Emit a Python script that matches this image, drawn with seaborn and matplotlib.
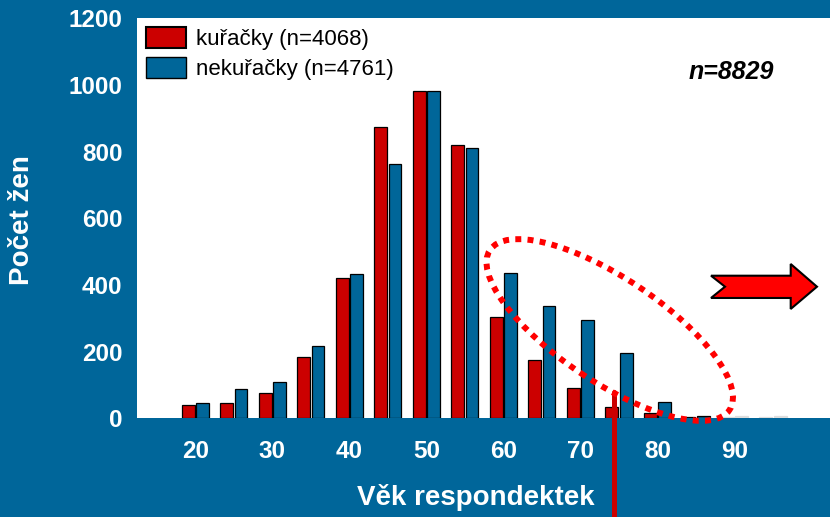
import numpy as np
import pandas as pd
import matplotlib
matplotlib.use("Agg")
import matplotlib.pyplot as plt
from matplotlib.patches import Patch, Polygon, Ellipse
from matplotlib.transforms import IdentityTransform
import seaborn as sns

# data
ages = [20, 25, 30, 35, 40, 45, 50, 55, 60, 65, 70, 75, 80, 85, 90, 95]
kuracky = [40, 45, 77, 185, 421, 874, 982, 820, 305, 176, 92, 34, 16, 3, 3, 3]
nekuracky = [45, 88, 109, 218, 434, 762, 982, 810, 435, 337, 295, 195, 48, 6, 7, 7]
groups = ["kuřačky (n=4068)", "nekuřačky (n=4761)"]
y_ticks = [0, 200, 400, 600, 800, 1000, 1200]
x_ticks = list(range(15, 101, 5))
x_labels = [str(t) if 20 <= t <= 90 and t % 10 == 0 else "" for t in x_ticks]
cutoff_age = 74.3
cutoff_top = 78

RED = "#CC0000"
BLUE = "#006699"
BG = "#00669A"
GHOST = "#DDDDDD"

df = pd.DataFrame({
    "age": ages * 2,
    "count": kuracky + nekuracky,
    "group": [groups[0]] * len(ages) + [groups[1]] * len(ages),
})

sns.set_style("white")
plt.rcParams["font.family"] = ["Liberation Sans", "DejaVu Sans"]

fig = plt.figure(figsize=(8.3, 5.17), dpi=100, facecolor=BG)
ax = fig.add_axes([137 / 830, 98.7 / 517, 693 / 830, 400 / 517])
ax.set_facecolor("white")

sns.barplot(data=df, x="age", y="count", hue="group", native_scale=True,
            palette=[RED, BLUE], saturation=1, width=0.74, gap=0.1,
            edgecolor="black", linewidth=0.9, legend=False, ax=ax)

# the oldest groups are greyed out
for p in ax.patches:
    if p.get_x() + p.get_width() / 2 > 87.5:
        p.set_facecolor(GHOST)
        p.set_edgecolor(GHOST)

ax.set_xlim(12.42, 102.4)
ax.set_ylim(0, 1200)
ax.set_yticks(y_ticks)
ax.set_xticks(x_ticks)
ax.set_xticklabels(x_labels)
for s in ax.spines.values():
    s.set_visible(False)
ax.tick_params(axis="both", direction="out", colors="#E8E8E8", width=1,
               labelcolor="white", labelsize=17.5)
ax.tick_params(axis="y", length=5, pad=5.5)
ax.tick_params(axis="x", length=4.5, pad=11)
for lab in ax.get_xticklabels() + ax.get_yticklabels():
    lab.set_fontweight("bold")
ax.set_xlabel("")
ax.set_ylabel("")

fig.text(475.5 / 830, 1 - 505 / 517, "Věk respondektek", ha="center",
         va="baseline", color="white", fontsize=20, fontweight="bold")
fig.text(22 / 830, 1 - 220 / 517, "Počet žen", rotation=90, ha="center",
         va="center", color="white", fontsize=20, fontweight="bold")

ax.text(0.857, 0.866, "n=8829", transform=ax.transAxes, ha="center",
        va="center", fontsize=18, fontweight="bold", style="italic",
        color="black")

handles = [Patch(facecolor=RED, edgecolor="black", linewidth=1.5),
           Patch(facecolor=BLUE, edgecolor="black", linewidth=1.0)]
leg = ax.legend(handles, groups, loc="upper left",
                bbox_to_anchor=(0.013, 0.978), frameon=False, fontsize=16,
                handlelength=1.8, handleheight=1.1, handletextpad=0.45,
                labelspacing=0.3, borderpad=0, borderaxespad=0)
for t in leg.get_texts():
    t.set_color("black")

# cutoff line
ax.axvline(cutoff_age, ymin=-0.25, ymax=cutoff_top / 1200, color=RED,
           lw=3.6, clip_on=False, zorder=5)

# dotted ellipse around the older ages
fig.canvas.draw()
cx, cy = ax.transData.transform((73.8, 265))
ell = Ellipse((cx, cy), 288, 104, angle=-33.7, transform=IdentityTransform(),
              fill=False, edgecolor="#FF0000", lw=4.3,
              linestyle=(0, (1, 1.05)), zorder=6)
ell.set_capstyle("butt")
fig.add_artist(ell)

# arrow to the right
arrow_pts = [(0.8283, 0.3565), (0.8485, 0.329), (0.8283, 0.3008),
             (0.9433, 0.3008), (0.9433, 0.2733), (0.9812, 0.329),
             (0.9433, 0.3858), (0.9433, 0.3565)]
ax.add_patch(Polygon(arrow_pts, closed=True, transform=ax.transAxes,
                     facecolor="#FF0000", edgecolor="black", lw=1.5,
                     clip_on=False, zorder=6))

fig.savefig("out.png", dpi=100, facecolor=BG)
